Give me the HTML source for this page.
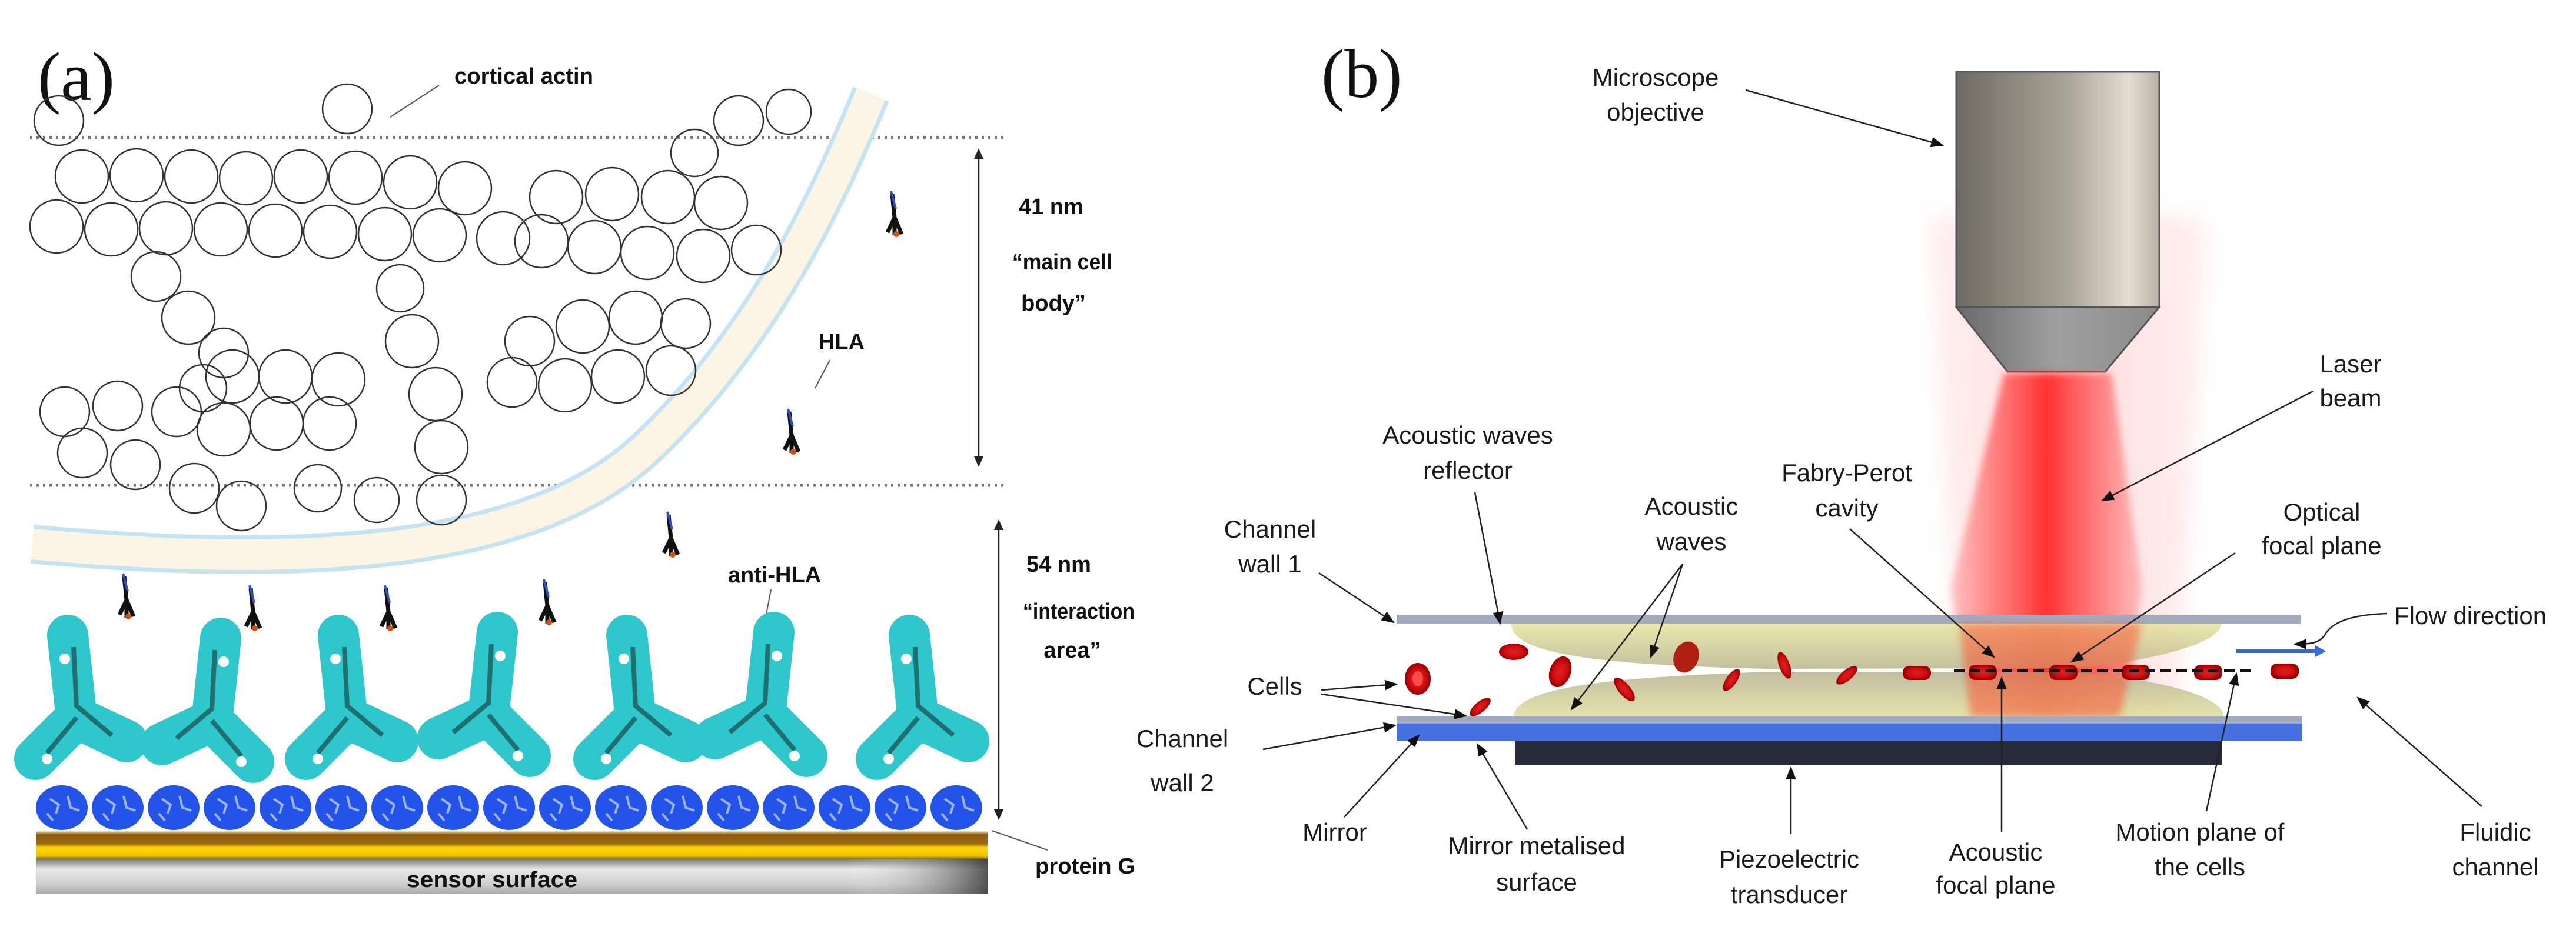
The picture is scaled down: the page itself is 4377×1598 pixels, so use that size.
<!DOCTYPE html>
<html><head><meta charset="utf-8"><style>
html,body{margin:0;padding:0;background:#fff;}
svg{display:block;}
.t{font-family:"Liberation Sans",sans-serif;font-size:42px;fill:#1a1a1a;text-anchor:middle;}
.a{font-family:"Liberation Sans",sans-serif;font-weight:bold;font-size:38px;fill:#111;text-anchor:middle;}
.ln{stroke:#222;stroke-width:2.5;fill:none;}
.ac{fill:none;stroke:#333;stroke-width:2.5;}
</style></head><body>
<svg width="4377" height="1598" viewBox="0 0 4377 1598" xmlns="http://www.w3.org/2000/svg">
<defs>
<marker id="ar2" viewBox="0 0 10 10" refX="9" refY="5" markerWidth="22" markerHeight="22" markerUnits="userSpaceOnUse" orient="auto"><path d="M0,1L10,5L0,9Z" fill="#111"/></marker>
<linearGradient id="obj" x1="0" x2="1"><stop offset="0" stop-color="#6e6b62"/><stop offset="0.55" stop-color="#a8a497"/><stop offset="0.85" stop-color="#e4ddd0"/><stop offset="1" stop-color="#b8b2a6"/></linearGradient>
<linearGradient id="cone" x1="0" x2="1"><stop offset="0" stop-color="#6a6a6a"/><stop offset="0.5" stop-color="#a0a0a0"/><stop offset="1" stop-color="#8a8a8a"/></linearGradient>
<linearGradient id="core" x1="0" x2="1"><stop offset="0" stop-color="#ff9090" stop-opacity="0.5"/><stop offset="0.2" stop-color="#ff7070" stop-opacity="0.8"/><stop offset="0.5" stop-color="#ff3030"/><stop offset="0.8" stop-color="#ff7070" stop-opacity="0.8"/><stop offset="1" stop-color="#ff9090" stop-opacity="0.5"/></linearGradient>
<linearGradient id="glow" x1="0" x2="1"><stop offset="0" stop-color="#ffc8c8" stop-opacity="0.3"/><stop offset="0.5" stop-color="#ffb0b0" stop-opacity="0.45"/><stop offset="1" stop-color="#ffc8c8" stop-opacity="0.3"/></linearGradient>
<linearGradient id="lt" x1="0" y1="0" x2="0" y2="1"><stop offset="0" stop-color="#e6e39c"/><stop offset="1" stop-color="#b9b68e"/></linearGradient>
<linearGradient id="lb" x1="0" y1="1" x2="0" y2="0"><stop offset="0" stop-color="#e0dd9c"/><stop offset="1" stop-color="#b5b390"/></linearGradient>
<linearGradient id="gold" x1="0" y1="0" x2="0" y2="1"><stop offset="0" stop-color="#f4e6a0"/><stop offset="0.12" stop-color="#8a5a10"/><stop offset="0.45" stop-color="#9a6a10"/><stop offset="0.6" stop-color="#ffd800"/><stop offset="0.9" stop-color="#f0c000"/><stop offset="1" stop-color="#8a6a20"/></linearGradient>
<linearGradient id="sens" x1="0" y1="0" x2="0" y2="1"><stop offset="0" stop-color="#777"/><stop offset="0.3" stop-color="#e8e8e8"/><stop offset="0.7" stop-color="#d0d0d0"/><stop offset="1" stop-color="#aaa"/></linearGradient>
<linearGradient id="sensx" x1="0" x2="1"><stop offset="0" stop-color="#fff" stop-opacity="0"/><stop offset="0.85" stop-color="#fff" stop-opacity="0"/><stop offset="1" stop-color="#333" stop-opacity="0.8"/></linearGradient>
<radialGradient id="rbc"><stop offset="0" stop-color="#e02020"/><stop offset="0.6" stop-color="#d01010"/><stop offset="1" stop-color="#9a0000"/></radialGradient>
<filter id="bl" x="-20%" y="-20%" width="140%" height="140%"><feGaussianBlur stdDeviation="18"/></filter>
<filter id="bl2"><feGaussianBlur stdDeviation="6"/></filter>
<g id="ab">
 <path d="M0 0 L-15 -140" stroke="#2ec8cc" stroke-width="70" stroke-linecap="round" fill="none"/>
 <path d="M0 0 L-70 70" stroke="#2ec8cc" stroke-width="72" stroke-linecap="round" fill="none"/>
 <path d="M0 0 L85 40" stroke="#2ec8cc" stroke-width="72" stroke-linecap="round" fill="none"/>
 <path d="M-5 -120 L0 -20 L60 30 M0 0 L-50 60" stroke="#1b5a5a" stroke-width="8" fill="none" opacity="0.8"/>
 <circle cx="-20" cy="-100" r="9" fill="#fff"/><circle cx="-50" cy="70" r="9" fill="#fff"/>
</g>
<g id="pg"><ellipse cx="0" cy="0" rx="44" ry="38" fill="#2353e8"/><path d="M-20 -15 l15 10 l-5 15 M10 -20 l5 20 l15 5 M-25 10 l10 12" stroke="#9cb4ff" stroke-width="4" fill="none"/></g>
<g id="hla"><path d="M0 0 l-12 25 M0 0 l12 28 M0 0 l0 30 M-4 -40 l4 40" stroke="#111" stroke-width="7" fill="none"/><path d="M-6 -45 l8 30" stroke="#2a4fd0" stroke-width="4"/><circle cx="3" cy="28" r="5" fill="#d05010"/></g>
</defs>

<!-- ================= PANEL A ================= -->
<text x="64" y="170" font-family="Liberation Serif,serif" font-size="118" fill="#111">(a)</text>
<text x="890" y="142" class="a" textLength="236" lengthAdjust="spacingAndGlyphs">cortical actin</text>
<line x1="746" y1="145" x2="663" y2="199" stroke="#555" stroke-width="2"/>

<line x1="51" y1="234" x2="1712" y2="234" stroke="#777" stroke-width="5" stroke-dasharray="4 7"/>
<line x1="51" y1="825" x2="1712" y2="825" stroke="#777" stroke-width="5" stroke-dasharray="4 7"/>

<path d="M55 925 C500 965 900 950 1100 760 S1410 330 1480 160" fill="none" stroke="#c4e4f4" stroke-width="66"/>
<path d="M55 925 C500 965 900 950 1100 760 S1410 330 1480 160" fill="none" stroke="#faf5e4" stroke-width="52"/>

<g class="ac">
<circle cx="100" cy="205" r="42"/><circle cx="590" cy="185" r="42"/><circle cx="1255" cy="205" r="42"/><circle cx="1180" cy="260" r="40"/><circle cx="1340" cy="190" r="38"/>
<circle cx="139" cy="300" r="45"/><circle cx="232" cy="298" r="45"/><circle cx="325" cy="300" r="45"/><circle cx="418" cy="303" r="45"/><circle cx="511" cy="300" r="45"/><circle cx="604" cy="302" r="45"/><circle cx="697" cy="310" r="45"/><circle cx="790" cy="320" r="45"/><circle cx="945" cy="335" r="45"/><circle cx="1040" cy="330" r="45"/><circle cx="1135" cy="335" r="45"/><circle cx="1225" cy="345" r="45"/>
<circle cx="96" cy="385" r="45"/><circle cx="189" cy="390" r="45"/><circle cx="282" cy="388" r="45"/><circle cx="375" cy="390" r="45"/><circle cx="468" cy="392" r="45"/><circle cx="561" cy="394" r="45"/><circle cx="654" cy="398" r="45"/><circle cx="747" cy="400" r="45"/><circle cx="855" cy="405" r="45"/><circle cx="920" cy="410" r="45"/><circle cx="1010" cy="420" r="45"/><circle cx="1100" cy="430" r="45"/><circle cx="1195" cy="435" r="45"/><circle cx="1285" cy="425" r="42"/>
<circle cx="265" cy="470" r="42"/><circle cx="320" cy="540" r="45"/><circle cx="380" cy="600" r="42"/><circle cx="345" cy="660" r="40"/>
<circle cx="680" cy="490" r="40"/><circle cx="700" cy="580" r="45"/><circle cx="740" cy="670" r="45"/><circle cx="750" cy="760" r="45"/><circle cx="750" cy="850" r="42"/>
<circle cx="900" cy="580" r="42"/><circle cx="990" cy="555" r="45"/><circle cx="1080" cy="540" r="45"/><circle cx="1165" cy="550" r="42"/><circle cx="870" cy="650" r="42"/><circle cx="960" cy="655" r="45"/><circle cx="1050" cy="640" r="45"/><circle cx="1140" cy="630" r="42"/>
<circle cx="110" cy="700" r="42"/><circle cx="200" cy="690" r="42"/><circle cx="300" cy="700" r="42"/><circle cx="395" cy="640" r="45"/><circle cx="485" cy="640" r="45"/><circle cx="575" cy="645" r="45"/>
<circle cx="140" cy="770" r="42"/><circle cx="230" cy="790" r="42"/><circle cx="330" cy="830" r="42"/><circle cx="410" cy="860" r="42"/><circle cx="380" cy="730" r="45"/><circle cx="470" cy="720" r="45"/><circle cx="560" cy="720" r="45"/><circle cx="540" cy="830" r="40"/><circle cx="640" cy="850" r="38"/>
</g>

<use href="#hla" x="1520" y="370"/><use href="#hla" x="1345" y="740"/><use href="#hla" x="1140" y="915"/>
<use href="#hla" x="215" y="1020"/><use href="#hla" x="430" y="1040"/><use href="#hla" x="660" y="1040"/><use href="#hla" x="930" y="1030"/>

<text x="1430" y="594" class="a">HLA</text>
<line x1="1410" y1="612" x2="1385" y2="660" stroke="#555" stroke-width="2"/>
<text x="1316" y="990" class="a">anti-HLA</text>
<line x1="1310" y1="1002" x2="1300" y2="1055" stroke="#555" stroke-width="2"/>

<use href="#ab" x="130" y="1220"/>
<use href="#ab" x="360" y="1225" transform="translate(720 0) scale(-1 1)"/>
<use href="#ab" x="590" y="1220"/>
<use href="#ab" x="830" y="1215" transform="translate(1660 0) scale(-1 1)"/>
<use href="#ab" x="1080" y="1220"/>
<use href="#ab" x="1300" y="1215" transform="translate(2600 0) scale(-1 1)"/>
<use href="#ab" x="1560" y="1220"/>

<g>
<use href="#pg" x="105" y="1373"/><use href="#pg" x="200" y="1373"/><use href="#pg" x="295" y="1373"/><use href="#pg" x="390" y="1373"/><use href="#pg" x="485" y="1373"/><use href="#pg" x="580" y="1373"/><use href="#pg" x="675" y="1373"/><use href="#pg" x="770" y="1373"/><use href="#pg" x="865" y="1373"/><use href="#pg" x="960" y="1373"/><use href="#pg" x="1055" y="1373"/><use href="#pg" x="1150" y="1373"/><use href="#pg" x="1245" y="1373"/><use href="#pg" x="1340" y="1373"/><use href="#pg" x="1435" y="1373"/><use href="#pg" x="1530" y="1373"/><use href="#pg" x="1625" y="1373"/>
</g>
<rect x="61" y="1413" width="1617" height="47" fill="url(#gold)"/>
<rect x="61" y="1460" width="1617" height="60" fill="url(#sens)"/>
<rect x="61" y="1460" width="1617" height="60" fill="url(#sensx)"/>
<text x="836" y="1508" class="a" textLength="290" lengthAdjust="spacingAndGlyphs">sensor surface</text>

<line x1="1663" y1="262" x2="1663" y2="784" stroke="#222" stroke-width="2.5"/>
<path d="M1663 252 l-8 18 h16z M1663 794 l-8 -18 h16z" fill="#222"/>
<line x1="1697" y1="893" x2="1697" y2="1384" stroke="#222" stroke-width="2.5"/>
<path d="M1697 883 l-8 18 h16z M1697 1394 l-8 -18 h16z" fill="#222"/>
<text x="1786" y="364" class="a">41 nm</text>
<text x="1805" y="458" class="a" textLength="170" lengthAdjust="spacingAndGlyphs">“main cell</text>
<text x="1790" y="528" class="a">body”</text>
<text x="1799" y="972" class="a">54 nm</text>
<text x="1833" y="1052" class="a" textLength="190" lengthAdjust="spacingAndGlyphs">“interaction</text>
<text x="1822" y="1118" class="a">area”</text>
<text x="1844" y="1485" class="a" textLength="170" lengthAdjust="spacingAndGlyphs">protein G</text>
<line x1="1685" y1="1412" x2="1780" y2="1445" stroke="#555" stroke-width="2"/>

<!-- ================= PANEL B ================= -->
<text x="2245" y="165" font-family="Liberation Serif,serif" font-size="118" fill="#111">(b)</text>

<path d="M3280 395 Q3262 366 3320 366 L3700 366 Q3755 366 3749 420 L3700 1232 L3330 1232 Z" fill="url(#glow)" filter="url(#bl)"/>
<rect x="3324" y="122" width="345" height="400" fill="url(#obj)" stroke="#555" stroke-width="3"/>
<polygon points="3324,522 3669,522 3577,632 3411,632" fill="url(#cone)" stroke="#555" stroke-width="3"/>
<path d="M3405 634 L3588 634 L3640 1000 L3602 1232 L3349 1232 L3315 1000 Z" fill="url(#core)" filter="url(#bl2)"/>

<rect x="2373" y="1045" width="1536" height="15" fill="#a2aac0"/>
<path d="M2568 1060 L3774 1060 C3774 1095 3650 1125 3521 1136 L3004 1137 C2700 1130 2568 1110 2568 1060 Z" fill="url(#lt)" opacity="0.85"/>
<path d="M2572 1218 L3778 1218 C3778 1180 3650 1152 3521 1143 L3004 1142 C2800 1150 2575 1160 2572 1218 Z" fill="url(#lb)" opacity="0.85"/>
<path d="M3330 1060 L3640 1060 L3602 1218 L3349 1218 Z" fill="#ff4a2a" opacity="0.45" filter="url(#bl2)"/>
<rect x="2373" y="1218" width="1539" height="12" fill="#a2aac0"/>
<rect x="2373" y="1230" width="1539" height="30" fill="#4470e0"/>
<rect x="2574" y="1260" width="1202" height="40" fill="#262a3a"/>

<g fill="url(#rbc)">
<ellipse cx="2572" cy="1108" rx="25" ry="14"/>
<ellipse cx="2409" cy="1154" rx="22" ry="27"/><ellipse cx="2409" cy="1154" rx="9" ry="13" fill="#ff4a4a"/>
<ellipse cx="2651" cy="1142" rx="18" ry="27" transform="rotate(20 2651 1142)"/>
<ellipse cx="2515" cy="1202" rx="9" ry="22" transform="rotate(50 2515 1202)"/>
<ellipse cx="2760" cy="1172" rx="10" ry="25" transform="rotate(-40 2760 1172)"/>
<ellipse cx="2865" cy="1117" rx="21" ry="27" fill="#b02010" transform="rotate(20 2865 1117)"/>
<ellipse cx="2942" cy="1156" rx="9" ry="22" transform="rotate(35 2942 1156)"/>
<ellipse cx="3032" cy="1131" rx="9" ry="24" transform="rotate(-20 3032 1131)"/>
<ellipse cx="3138" cy="1148" rx="9" ry="22" transform="rotate(50 3138 1148)"/>
<rect x="3233" y="1132" width="48" height="24" rx="11"/>
<rect x="3345" y="1130" width="48" height="26" rx="11"/>
<rect x="3482" y="1130" width="48" height="26" rx="11"/>
<rect x="3605" y="1130" width="48" height="26" rx="11"/>
<rect x="3728" y="1130" width="48" height="26" rx="11"/>
<rect x="3858" y="1128" width="48" height="26" rx="11"/>
</g>
<line x1="3320" y1="1140" x2="3826" y2="1140" stroke="#111" stroke-width="6" stroke-dasharray="18 9"/>
<line x1="3800" y1="1107" x2="3940" y2="1107" stroke="#3a6ad8" stroke-width="6"/>
<path d="M3952 1107 l-18 -10 v20z" fill="#3a6ad8"/>

<text x="2813" y="146" class="t">Microscope</text><text x="2813" y="205" class="t">objective</text>
<line x1="2966" y1="153" x2="3301" y2="247" class="ln" marker-end="url(#ar2)"/>
<text x="3994" y="633" class="t">Laser</text><text x="3994" y="691" class="t">beam</text>
<line x1="3930" y1="665" x2="3572" y2="851" class="ln" marker-end="url(#ar2)"/>
<text x="2494" y="754" class="t">Acoustic waves</text><text x="2494" y="814" class="t">reflector</text>
<line x1="2506" y1="837" x2="2549" y2="1060" class="ln" marker-end="url(#ar2)"/>
<text x="2158" y="914" class="t">Channel</text><text x="2158" y="973" class="t">wall 1</text>
<line x1="2241" y1="974" x2="2368" y2="1058" class="ln" marker-end="url(#ar2)"/>
<text x="2874" y="875" class="t">Acoustic</text><text x="2874" y="935" class="t">waves</text>
<line x1="2859" y1="959" x2="2805" y2="1117" class="ln" marker-end="url(#ar2)"/>
<line x1="2859" y1="959" x2="2670" y2="1206" class="ln" marker-end="url(#ar2)"/>
<text x="3138" y="818" class="t">Fabry-Perot</text><text x="3138" y="878" class="t">cavity</text>
<line x1="3143" y1="899" x2="3388" y2="1117" class="ln" marker-end="url(#ar2)"/>
<text x="3945" y="885" class="t">Optical</text><text x="3945" y="942" class="t">focal plane</text>
<line x1="3798" y1="940" x2="3520" y2="1125" class="ln" marker-end="url(#ar2)"/>
<text x="4068" y="1061" class="t" style="text-anchor:start">Flow direction</text>
<path d="M4056 1043 C3990 1045 3960 1060 3950 1080 C3940 1095 3920 1095 3899 1095" class="ln" marker-end="url(#ar2)"/>
<text x="2166" y="1181" class="t">Cells</text>
<line x1="2245" y1="1173" x2="2373" y2="1163" class="ln" marker-end="url(#ar2)"/>
<line x1="2245" y1="1180" x2="2491" y2="1217" class="ln" marker-end="url(#ar2)"/>
<text x="2009" y="1270" class="t">Channel</text><text x="2009" y="1345" class="t">wall 2</text>
<line x1="2146" y1="1274" x2="2371" y2="1233" class="ln" marker-end="url(#ar2)"/>
<text x="2268" y="1429" class="t">Mirror</text>
<line x1="2284" y1="1389" x2="2411" y2="1250" class="ln" marker-end="url(#ar2)"/>
<text x="2611" y="1452" class="t">Mirror metalised</text><text x="2611" y="1514" class="t">surface</text>
<line x1="2595" y1="1410" x2="2510" y2="1265" class="ln" marker-end="url(#ar2)"/>
<text x="3040" y="1475" class="t">Piezoelectric</text><text x="3040" y="1535" class="t">transducer</text>
<line x1="3043" y1="1418" x2="3043" y2="1305" class="ln" marker-end="url(#ar2)"/>
<text x="3391" y="1463" class="t">Acoustic</text><text x="3391" y="1519" class="t">focal plane</text>
<line x1="3401" y1="1414" x2="3401" y2="1152" class="ln" marker-end="url(#ar2)"/>
<text x="3738" y="1429" class="t">Motion plane of</text><text x="3738" y="1488" class="t">the cells</text>
<line x1="3749" y1="1379" x2="3800" y2="1145" class="ln" marker-end="url(#ar2)"/>
<text x="4240" y="1429" class="t">Fluidic</text><text x="4240" y="1488" class="t">channel</text>
<line x1="4217" y1="1371" x2="4006" y2="1186" class="ln" marker-end="url(#ar2)"/>
</svg>
</body></html>
